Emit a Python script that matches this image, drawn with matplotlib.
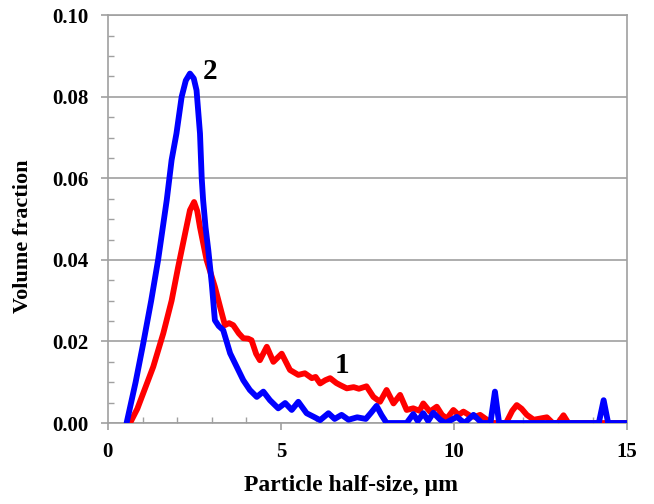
import matplotlib
matplotlib.use("Agg")
import matplotlib.pyplot as plt
from matplotlib.ticker import MultipleLocator, FormatStrFormatter

# Curve 2 (blue)
x2 = [0.54, 0.8, 1.02, 1.25, 1.45, 1.70, 1.84, 1.98, 2.13, 2.25, 2.37, 2.48, 2.56, 2.66, 2.71,
      2.75, 2.82, 2.90, 3.0, 3.09, 3.2, 3.33, 3.53, 3.72, 3.91, 4.10, 4.30, 4.49, 4.68, 4.92,
      5.12, 5.31, 5.5, 5.74, 5.95, 6.13, 6.37, 6.55, 6.75, 6.95, 7.2, 7.45, 7.6, 7.76, 7.9,
      8.05, 8.63, 8.82, 8.95, 9.11, 9.25, 9.40, 9.6, 9.75, 10.08, 10.3, 10.56, 10.8, 11.05,
      11.18, 11.3, 14.18, 14.32, 14.45, 15.0]
y2 = [0.0, 0.010, 0.0195, 0.030, 0.040, 0.0547, 0.0645, 0.071, 0.080, 0.084, 0.0857, 0.0845,
      0.0816, 0.071, 0.060, 0.0547, 0.048, 0.0424, 0.0342, 0.0252, 0.0238, 0.0228, 0.0171,
      0.0138, 0.0105, 0.0081, 0.0064, 0.0077, 0.0056, 0.0036, 0.0049, 0.0032, 0.0052, 0.0024,
      0.0015, 0.0007, 0.0024, 0.0010, 0.0020, 0.0008, 0.0014, 0.0010, 0.0025, 0.0042, 0.0020,
      0.0, 0.0, 0.0022, 0.0005, 0.0024, 0.0005, 0.0025, 0.0008, 0.0, 0.0015, 0.0, 0.0020, 0.0,
      0.0, 0.0077, 0.0, 0.0, 0.0056, 0.0, 0.0]

# Curve 1 (red)
x1 = [0.64, 0.85, 1.02, 1.31, 1.60, 1.84, 2.03, 2.23, 2.37, 2.49, 2.58, 2.66, 2.85, 3.09, 3.24,
      3.38, 3.5, 3.62, 3.78, 3.91, 4.05, 4.15, 4.28, 4.39, 4.59, 4.78, 5.02, 5.14, 5.26, 5.5,
      5.69, 5.89, 6.0, 6.13, 6.28, 6.42, 6.6, 6.71, 6.90, 7.1, 7.25, 7.47, 7.67, 7.86, 8.05,
      8.25, 8.44, 8.63, 8.82, 9.0, 9.11, 9.3, 9.5, 9.65, 9.79, 9.98, 10.13, 10.27, 10.46, 10.6,
      10.75, 10.95, 11.15, 11.5, 11.68, 11.81, 11.95, 12.1, 12.3, 12.49, 12.68, 12.85, 13.0,
      13.16, 13.3, 15.0]
y1 = [0.0, 0.0035, 0.0073, 0.0138, 0.022, 0.030, 0.0383, 0.0465, 0.0522, 0.0542, 0.052, 0.048,
      0.040, 0.0334, 0.0285, 0.024, 0.0245, 0.024, 0.022, 0.0208, 0.0207, 0.0203, 0.017, 0.0154,
      0.0187, 0.015, 0.017, 0.015, 0.013, 0.0118, 0.0122, 0.011, 0.0113, 0.0097, 0.0105, 0.011,
      0.0098, 0.0093, 0.0085, 0.0088, 0.0084, 0.009, 0.0064, 0.0052, 0.0081, 0.0048, 0.0069,
      0.0032, 0.0036, 0.0030, 0.0048, 0.0028, 0.004, 0.002, 0.0011, 0.0032, 0.0020, 0.0028,
      0.0018, 0.0015, 0.002, 0.0008, 0.0, 0.0, 0.0030, 0.0044, 0.0035, 0.002, 0.0008, 0.0011,
      0.0014, 0.0, 0.0, 0.0019, 0.0, 0.0]

xlabel = "Particle half-size, \u00b5m"
ylabel = "Volume fraction"

plt.rcParams['font.family'] = ['Liberation Serif', 'DejaVu Serif']
plt.rcParams['font.weight'] = 'bold'

fig = plt.figure(figsize=(6.54, 5.04), dpi=100)
ax = fig.add_axes([0.165, 0.1607, 0.794, 0.809])

grid_c = '#a0a0a0'
ax.set_xlim(0, 15)
ax.set_ylim(0, 0.10)
ax.yaxis.set_major_locator(MultipleLocator(0.02))
ax.yaxis.set_minor_locator(MultipleLocator(0.005))
ax.xaxis.set_major_locator(MultipleLocator(5))
ax.xaxis.set_minor_locator(MultipleLocator(1))
ax.grid(axis='y', which='major', color=grid_c, lw=1.2)
ax.set_axisbelow(True)
for s in ax.spines.values():
    s.set_color(grid_c)
    s.set_linewidth(1.2)

ax.tick_params(which='major', direction='out', length=5, color=grid_c, width=1.2,
               labelsize=15)
ax.tick_params(axis='y', which='major', pad=9)
ax.tick_params(axis='x', which='major', pad=9)
ax.tick_params(which='minor', direction='in', length=4, color=grid_c, width=1.0)
ax.yaxis.set_major_formatter(FormatStrFormatter('%.2f'))
for lab in ax.get_xticklabels() + ax.get_yticklabels():
    lab.set_fontweight('bold')

ax.plot(x1, y1, color='#ff0000', lw=4.2, solid_joinstyle='round', solid_capstyle='round', zorder=3)
ax.plot(x2, y2, color='#0000ff', lw=4.2, solid_joinstyle='round', solid_capstyle='round', zorder=4)

ax.text(2.95, 0.0861, '2', fontsize=21, fontweight='bold', va='center', ha='center')
ax.text(6.75, 0.0142, '1', fontsize=21, fontweight='bold', va='center', ha='center')

ax.set_xlabel(xlabel, fontsize=17, fontweight='bold')
ax.set_ylabel(ylabel, fontsize=16, fontweight='bold')
ax.xaxis.set_label_coords(0.468, -0.128)
ax.yaxis.set_label_coords(-0.145, 0.458)

fig.savefig('out.png', dpi=100)
